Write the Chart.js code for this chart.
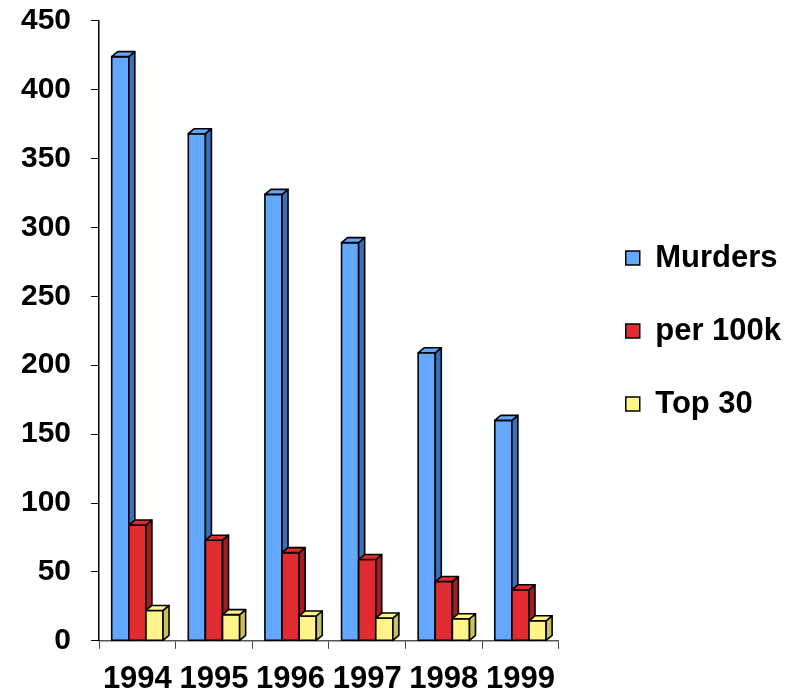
<!DOCTYPE html>
<html>
<head>
<meta charset="utf-8">
<script src="https://cdn.jsdelivr.net/npm/chart.js@4"></script>
<style>
  html, body { margin: 0; padding: 0; background: #fff; }
  #wrap { width: 794px; height: 691px; }
</style>
</head>
<body>
<div id="wrap"><canvas id="barchart" width="794" height="691"></canvas></div>
<script>
// values
var years = ['1994', '1995', '1996', '1997', '1998', '1999'];
var murders = [424, 368, 324, 289, 209, 160];
var per100k = [84, 73, 64, 59, 43, 37];
var top30 = [22, 19, 18, 16.5, 16, 14.5];
var yTicks = [0, 50, 100, 150, 200, 250, 300, 350, 400, 450];

// front colour and side colour for each series
var fronts = ['#63a7ff', '#e02b30', '#fff48a'];
var sides = ['#3c70b8', '#a21c20', '#c9c160'];

var font = 'Liberation Sans, Arial, sans-serif';

// fake 3D: side and top faces drawn from each bar element
var bars3d = {
    id: 'bars3d',
    afterDatasetsDraw: function (chart) {
        var ctx = chart.ctx;
        var dx = 6, dy = 5;
        ctx.save();
        ctx.lineWidth = 1.6;
        ctx.strokeStyle = '#000';
        ctx.lineJoin = 'round';
        for (var i = 0; i < chart.data.datasets.length; i++) {
            var meta = chart.getDatasetMeta(i);
            meta.data.forEach(function (bar) {
                var p = bar.getProps(['x', 'y', 'base', 'width'], true);
                var l = p.x - p.width / 2, r = p.x + p.width / 2;
                // front
                ctx.fillStyle = fronts[i];
                ctx.fillRect(l, p.y, p.width, p.base - p.y);
                ctx.strokeRect(l, p.y, p.width, p.base - p.y);
                // side
                ctx.fillStyle = sides[i];
                ctx.beginPath();
                ctx.moveTo(r, p.y);
                ctx.lineTo(r + dx, p.y - dy);
                ctx.lineTo(r + dx, p.base - dy);
                ctx.lineTo(r, p.base);
                ctx.closePath();
                ctx.fill();
                ctx.stroke();
                // top
                ctx.fillStyle = fronts[i];
                ctx.beginPath();
                ctx.moveTo(l, p.y);
                ctx.lineTo(l + dx, p.y - dy);
                ctx.lineTo(r + dx, p.y - dy);
                ctx.lineTo(r, p.y);
                ctx.closePath();
                ctx.fill();
                ctx.stroke();
            });
        }
        ctx.restore();
    }
};

// legend sits a bit away from the plot and a bit higher than centre
var legendGap = 25, legendLift = 24;
var legendMove = {
    id: 'legendMove',
    beforeLayout: function (chart) {
        var lg = chart.legend;
        if (lg && !lg.gapDone) {
            var fit = lg.fit;
            lg.fit = function () {
                fit.call(this);
                this.width += legendGap;
            };
            lg.gapDone = true;
        }
    },
    afterLayout: function (chart) {
        var lg = chart.legend;
        lg.left += legendGap;
        lg.right += legendGap;
        lg.top -= legendLift;
        lg.bottom -= legendLift;
    }
};

var ctx = document.getElementById('barchart').getContext('2d');

var myBarChart = new Chart(ctx, {
    type: 'bar',
    data: {
        labels: years,
        datasets: [
            { label: 'Murders', data: murders, backgroundColor: fronts[0], borderColor: '#000', borderWidth: 1.5 },
            { label: 'per 100k', data: per100k, backgroundColor: fronts[1], borderColor: '#000', borderWidth: 1.5 },
            { label: 'Top 30', data: top30, backgroundColor: fronts[2], borderColor: '#000', borderWidth: 1.5 }
        ]
    },
    options: {
        responsive: false,
        animation: false,
        layout: { padding: { left: 1, top: 0, right: 16, bottom: -19 } },
        datasets: {
            bar: { categoryPercentage: 0.67, barPercentage: 1 }
        },
        plugins: {
            tooltip: { enabled: false },
            legend: {
                position: 'right',
                labels: {
                    boxWidth: 14,
                    boxHeight: 14,
                    padding: 42,
                    color: '#000',
                    font: { family: font, size: 31, weight: 'bold' }
                }
            }
        },
        scales: {
            x: {
                grid: { drawOnChartArea: false, drawTicks: true, tickLength: 8, tickColor: '#444', offset: true },
                border: { display: true, color: '#555', width: 1.5 },
                ticks: {
                    color: '#000',
                    padding: 12,
                    font: { family: font, size: 31, weight: 'bold' }
                }
            },
            y: {
                min: 0,
                max: 450,
                afterBuildTicks: function (axis) {
                    axis.ticks = yTicks.map(function (v) { return { value: v }; });
                },
                grid: { drawOnChartArea: false, drawTicks: true, tickLength: 8, tickColor: '#000' },
                border: { display: true, color: '#000', width: 1.5 },
                ticks: {
                    color: '#000',
                    padding: 20,
                    font: { family: font, size: 30, weight: 'bold', lineHeight: 0.05 }
                }
            }
        }
    },
    plugins: [bars3d, legendMove]
});
</script>
</body>
</html>
